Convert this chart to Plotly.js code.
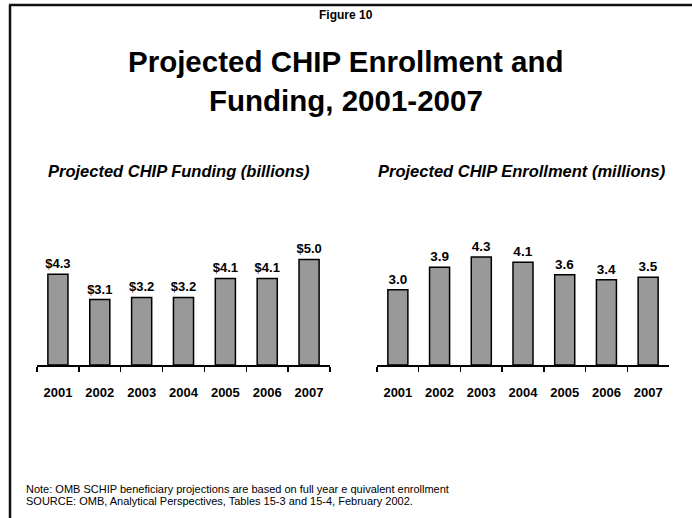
<!DOCTYPE html>
<html>
<head>
<meta charset="utf-8">
<script src="https://cdn.plot.ly/plotly-3.0.1.min.js"></script>
<style>html,body{margin:0;padding:0;background:#fff;}#chart{width:692px;height:518px;}</style>
</head>
<body>
<div id="chart"></div>
<script>
const years = ['2001','2002','2003','2004','2005','2006','2007'];
const fundingBillions = [4.3, 3.1, 3.2, 3.2, 4.1, 4.1, 5.0];
const enrollmentMillions = [3.0, 3.9, 4.3, 4.1, 3.6, 3.4, 3.5];

const figureLabel = 'Figure 10';
const mainTitle1 = 'Projected CHIP Enrollment and';
const mainTitle2 = 'Funding, 2001-2007';
const leftTitle = 'Projected CHIP Funding (billions)';
const rightTitle = 'Projected CHIP Enrollment (millions)';
const note1 = 'Note: OMB SCHIP beneficiary projections are based on full year e quivalent enrollment';
const note2 = 'SOURCE: OMB, Analytical Perspectives, Tables 15-3 and 15-4, February 2002.';

const W = 692, H = 518;
const FONT = '"Liberation Sans", Arial, Helvetica, sans-serif';
const px = v => v / W;
const py = v => 1 - v / H;

const barStyle = {
  type: 'bar', width: 0.48,
  marker: {color: '#999999', line: {color: '#000000', width: 1.5}},
  textposition: 'outside', cliponaxis: false, constraintext: 'none',
  textfont: {family: FONT, size: 13, color: '#000', weight: 'bold'},
  hoverinfo: 'skip', showlegend: false
};

const traces = [
  Object.assign({}, barStyle, {x: years, y: fundingBillions, text: fundingBillions.map(v => '$' + v.toFixed(1)), xaxis: 'x', yaxis: 'y'}),
  Object.assign({}, barStyle, {x: years, y: enrollmentMillions, text: enrollmentMillions.map(v => v.toFixed(1)), xaxis: 'x2', yaxis: 'y2', textfont: {family: FONT, size: 13.5, color: '#000', weight: 'bold'}})
];

const xStyle = {
  type: 'category', showline: true, linecolor: '#000', linewidth: 2,
  ticks: 'outside', tickson: 'boundaries', ticklen: 5, tickwidth: 1.5, tickcolor: '#000',
  tickfont: {family: FONT, size: 13, color: '#000', weight: 'bold'},
  ticklabelstandoff: 14,
  showgrid: false, zeroline: false, fixedrange: true, range: [-0.5, 6.5]
};
const yBottom = py(365), yTop = py(225);

const annBase = {xref: 'paper', yref: 'paper', showarrow: false, font: {family: FONT, color: '#000'}};
const ann = (text, x, y, size, opts) => Object.assign({}, annBase, {text: text, x: x, y: y, xanchor: 'center', yanchor: 'middle', font: Object.assign({family: FONT, color: '#000', size: size}, opts || {})});

const layout = {
  width: W, height: H,
  margin: {l: 0, r: 0, t: 0, b: 0},
  paper_bgcolor: '#fff', plot_bgcolor: 'rgba(0,0,0,0)',
  bargap: 0.52,
  xaxis: Object.assign({}, xStyle, {domain: [px(37), px(330)], anchor: 'y'}),
  xaxis2: Object.assign({}, xStyle, {domain: [px(377), px(669)], anchor: 'y2'}),
  yaxis: {domain: [yBottom, yTop], range: [0, 6.63], visible: false, fixedrange: true},
  yaxis2: {domain: [yBottom, yTop], range: [0, 5.58], visible: false, fixedrange: true},
  annotations: [
    ann(figureLabel, px(346), py(15), 12, {weight: 'bold'}),
    ann(mainTitle1, px(346), py(62), 29.5, {weight: 'bold'}),
    ann(mainTitle2, px(346), py(101), 29.5, {weight: 'bold'}),
    ann(leftTitle, px(179), py(171), 16.5, {weight: 'bold', style: 'italic'}),
    ann(rightTitle, px(521.5), py(171), 16.5, {weight: 'bold', style: 'italic'}),
    Object.assign({}, annBase, {text: note1, x: px(24), y: py(489), xanchor: 'left', yanchor: 'middle', font: {family: FONT, size: 11, color: '#000'}}),
    Object.assign({}, annBase, {text: note2, x: px(24), y: py(500.5), xanchor: 'left', yanchor: 'middle', font: {family: FONT, size: 11, color: '#000'}})
  ],
  shapes: [
    {type: 'line', xref: 'paper', yref: 'paper', x0: px(10), x1: px(10), y0: 0, y1: py(5), line: {color: '#111', width: 2.5}},
    {type: 'line', xref: 'paper', yref: 'paper', x0: px(9), x1: 1, y0: py(5), y1: py(5), line: {color: '#111', width: 2.5}}
  ]
};

Plotly.newPlot('chart', traces, layout, {displayModeBar: false, staticPlot: true});
</script>
</body>
</html>
